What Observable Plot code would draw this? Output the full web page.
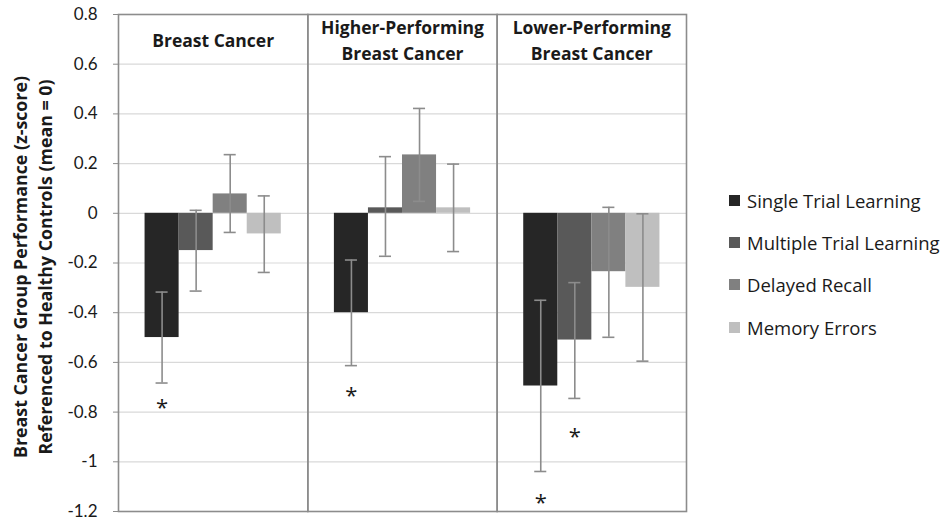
<!DOCTYPE html>
<html>
<head>
<meta charset="utf-8">
<script src="https://cdn.jsdelivr.net/npm/d3@7"></script>
<script src="https://cdn.jsdelivr.net/npm/@observablehq/plot@0.6"></script>
<style>
  html, body { margin: 0; padding: 0; background: #fff; }
  #wrap { position: relative; width: 948px; height: 526px; }
  #legend { position: absolute; left: 729px; top: 179px; font-family: "Open Sans", Lato, sans-serif; }
  .row { display: flex; align-items: center; height: 42.3px; font-size: 18.5px; color: #1a1a1a; }
  .sw { width: 11px; height: 11px; margin-right: 7px; flex: none; }
</style>
</head>
<body>
<div id="wrap"></div>
<script>
// ---- data ----
const groups = ["Breast Cancer", "Higher-Performing Breast Cancer", "Lower-Performing Breast Cancer"];
const groupLabels = ["Breast Cancer", "Higher-Performing\nBreast Cancer", "Lower-Performing\nBreast Cancer"];
const measures = ["Single Trial Learning", "Multiple Trial Learning", "Delayed Recall", "Memory Errors"];
const colors = ["#262626", "#595959", "#808080", "#bfbfbf"];

// means, per group (order of measures)
const meanBC = [-0.50, -0.15, 0.078, -0.083];
const meanHP = [-0.40, 0.022, 0.235, 0.022];
const meanLP = [-0.695, -0.51, -0.235, -0.298];
// error bar lower ends
const loBC = [-0.683, -0.313, -0.077, -0.238];
const loHP = [-0.613, -0.173, 0.048, -0.154];
const loLP = [-1.039, -0.745, -0.499, -0.595];
// error bar upper ends
const hiBC = [-0.317, 0.012, 0.236, 0.070];
const hiHP = [-0.188, 0.228, 0.422, 0.198];
const hiLP = [-0.350, -0.279, 0.024, -0.002];

// significance markers (group, measure, vertical position)
const starGroups = ["Breast Cancer", "Higher-Performing Breast Cancer", "Lower-Performing Breast Cancer", "Lower-Performing Breast Cancer"];
const starMeasures = ["Single Trial Learning", "Single Trial Learning", "Single Trial Learning", "Multiple Trial Learning"];
const starY = [-0.758, -0.712, -1.142, -0.877];

const yTicks = [0.8, 0.6, 0.4, 0.2, 0, -0.2, -0.4, -0.6, -0.8, -1, -1.2];
const yTickLabels = ["0.8", "0.6", "0.4", "0.2", "0", "-0.2", "-0.4", "-0.6", "-0.8", "-1", "-1.2"];

const yTitle1 = "Breast Cancer Group Performance (z-score)";
const yTitle2 = "Referenced to Healthy Controls (mean = 0)";

// ---- build tables ----
const means = [meanBC, meanHP, meanLP];
const los = [loBC, loHP, loLP];
const his = [hiBC, hiHP, hiLP];
const data = [];
groups.forEach((g, gi) => measures.forEach((m, mi) => {
  data.push({group: g, measure: m, value: means[gi][mi], lo: los[gi][mi], hi: his[gi][mi]});
}));
const headers = groups.map((g, i) => ({group: g, label: groupLabels[i]}));
const stars = starGroups.map((g, i) => ({group: g, measure: starMeasures[i], y: starY[i]}));

const font = "'Open Sans', Lato, sans-serif";
const tickFont = "Lato, 'Open Sans', sans-serif";
const errColor = "#8c8c8c";

const svg = Plot.plot({
  width: 948,
  height: 526,
  marginLeft: 118,
  marginRight: 262,
  marginTop: 14,
  marginBottom: 15,
  style: {fontFamily: font, background: "white", color: "#1a1a1a"},
  fx: {domain: groups, padding: 0, axis: null, round: false},
  x: {domain: measures, paddingInner: 0, paddingOuter: 0.78, axis: null, round: false},
  y: {domain: [-1.2, 0.8], axis: null},
  color: {domain: measures, range: colors},
  marks: [
    Plot.gridY(yTicks, {stroke: "#d9d9d9", strokeOpacity: 1, strokeWidth: 1.2}),
    Plot.barY(data, {fx: "group", x: "measure", y1: 0, y2: "value", fill: "measure"}),
    Plot.ruleX(data, {fx: "group", x: "measure", y1: "lo", y2: "hi", stroke: errColor, strokeWidth: 1.6}),
    Plot.tickY(data, {fx: "group", x: "measure", y: "lo", stroke: errColor, strokeWidth: 1.6, insetLeft: 11, insetRight: 11}),
    Plot.tickY(data, {fx: "group", x: "measure", y: "hi", stroke: errColor, strokeWidth: 1.6, insetLeft: 11, insetRight: 11}),
    Plot.text(stars, {fx: "group", x: "measure", y: "y", text: () => "*", fontSize: 22, dy: 6, fill: "#1a1a1a", fontFamily: font}),
    Plot.frame({stroke: "#8c8c8c", strokeWidth: 1.6}),
    Plot.text(headers, {fx: "group", text: "label", frameAnchor: "top", dy: 24, lineAnchor: "middle", lineHeight: 1.5, fontSize: 17.5, fontWeight: "bold", fill: "#1a1a1a", fontFamily: font}),
    Plot.axisY({ticks: yTicks, tickFormat: d => yTickLabels[yTicks.indexOf(d)], tickSize: 5, tickPadding: 16, fontSize: 17, stroke: "#8c8c8c", fill: "#1a1a1a", fontFamily: tickFont})
  ]
});

const s = d3.select(svg);
[[yTitle1, 20], [yTitle2, 45]].forEach(([t, x]) => {
  s.append("text")
    .attr("transform", `translate(${x},267) rotate(-90)`)
    .attr("text-anchor", "middle")
    .attr("dominant-baseline", "central")
    .attr("font-family", font)
    .attr("font-weight", "bold")
    .attr("font-size", 17.8)
    .attr("fill", "#1a1a1a")
    .text(t);
});

const wrap = document.getElementById("wrap");
wrap.appendChild(svg);

const legend = document.createElement("div");
legend.id = "legend";
measures.forEach((m, i) => {
  const row = document.createElement("div");
  row.className = "row";
  const sw = document.createElement("span");
  sw.className = "sw";
  sw.style.background = colors[i];
  const lab = document.createElement("span");
  lab.textContent = m;
  row.appendChild(sw);
  row.appendChild(lab);
  legend.appendChild(row);
});
wrap.appendChild(legend);
</script>
</body>
</html>
